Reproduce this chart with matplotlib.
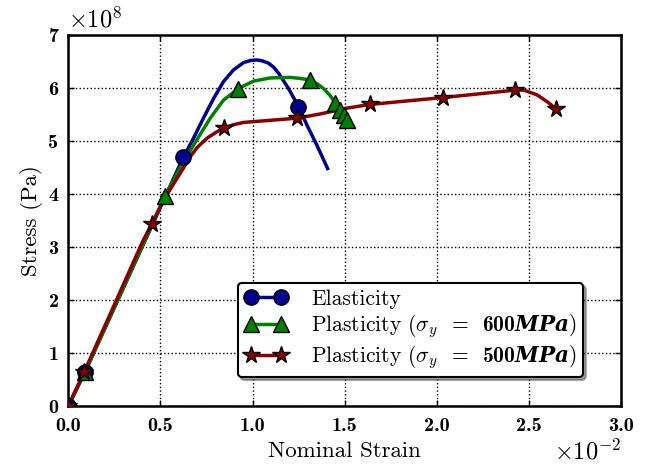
import numpy as np
import matplotlib
matplotlib.use('Agg')
import matplotlib.pyplot as plt
from matplotlib.lines import Line2D

plt.rcParams['font.family'] = 'serif'
plt.rcParams['font.serif'] = ['cmr10']
plt.rcParams['mathtext.fontset'] = 'custom'
plt.rcParams['mathtext.rm'] = 'cmr10'
plt.rcParams['mathtext.it'] = 'cmmi10'
plt.rcParams['mathtext.bf'] = 'cmb10'
plt.rcParams['mathtext.bfit'] = 'DejaVu Serif:italic:bold'
plt.rcParams['mathtext.fallback'] = 'cm'
plt.rcParams['axes.formatter.use_mathtext'] = True

# strain in units of 1e-2, stress in units of 1e8 Pa
el_x = [0.0, 0.09, 0.625, 0.679, 0.733, 0.788, 0.842, 0.896, 0.951, 0.99, 1.023, 1.055,
        1.086, 1.115, 1.141, 1.195, 1.249, 1.295, 1.349, 1.407]
el_y = [0.0, 0.64, 4.70, 5.05, 5.43, 5.80, 6.12, 6.34, 6.48, 6.52, 6.53, 6.51,
        6.47, 6.39, 6.28, 5.99, 5.65, 5.30, 4.92, 4.48]
el_mk = [0, 1, 2, 16]

p6_x = [0.0, 0.09, 0.526, 0.625, 0.697, 0.770, 0.842, 0.923, 1.005, 1.096, 1.204,
        1.26, 1.313, 1.35, 1.385, 1.42, 1.449, 1.475, 1.495, 1.515]
p6_y = [0.0, 0.63, 3.97, 4.61, 5.02, 5.43, 5.77, 5.99, 6.13, 6.19, 6.20,
        6.18, 6.15, 6.08, 5.99, 5.86, 5.72, 5.59, 5.49, 5.40]
p6_mk = [0, 1, 2, 7, 12, 16, 17, 18, 19]

p5_x = [0.0, 0.085, 0.407, 0.453, 0.516, 0.589, 0.625, 0.661, 0.70, 0.752, 0.80, 0.846,
        0.90, 0.951, 1.096, 1.241, 1.367, 1.512, 1.639, 2.034, 2.426, 2.472, 2.544,
        2.599, 2.649]
p5_y = [0.0, 0.63, 3.13, 3.43, 3.88, 4.29, 4.49, 4.70, 4.88, 5.05, 5.16, 5.25,
        5.31, 5.35, 5.39, 5.43, 5.51, 5.62, 5.69, 5.82, 5.96, 5.96, 5.87,
        5.74, 5.60]
p5_mk = [0, 1, 3, 11, 15, 18, 19, 20, 24]

xticks = [0.0, 0.5, 1.0, 1.5, 2.0, 2.5, 3.0]
yticks = [0, 1, 2, 3, 4, 5, 6, 7]

fig, ax = plt.subplots(figsize=(6.47, 4.67), dpi=100)
plt.subplots_adjust(left=0.1056, right=0.960, top=0.925, bottom=0.131)

lab6 = r'Plasticity ($\sigma_y\;\;\mathbf{=}\;\;\mathbf{600}\mathbfit{MPa}$)'
lab5 = r'Plasticity ($\sigma_y\;\;\mathbf{=}\;\;\mathbf{500}\mathbfit{MPa}$)'
series = [
    (el_x, el_y, el_mk, '#00008C', 'o', 11, 'Elasticity'),
    (p6_x, p6_y, p6_mk, '#008000', '^', 12, lab6),
    (p5_x, p5_y, p5_mk, '#8B0000', '*', 13, lab5),
]

handles = []
for x, y, mk, c, m, ms, lab in series:
    ax.plot(x, y, '-', color=c, lw=2.5, zorder=3)
    ax.plot(np.array(x)[mk], np.array(y)[mk], ls='', marker=m, ms=ms,
            mfc=c, mec='k', mew=1, zorder=4)
    handles.append(Line2D([], [], color=c, lw=2.5, marker=m, ms=ms,
                          mfc=c, mec='k', mew=1, label=lab))

ax.set_xlim(0, 3.0)
ax.set_ylim(0, 7)
ax.set_xticks(xticks)
ax.set_yticks(yticks)
ax.set_xticklabels(['%.1f' % v for v in xticks], fontsize=14.5, fontfamily='cmb10')
ax.set_yticklabels(['%d' % v for v in yticks], fontsize=14.5, fontfamily='cmb10')
ax.tick_params(direction='in', top=True, right=True, length=4, width=1)
ax.tick_params(axis='x', pad=8)
ax.tick_params(axis='y', pad=7)
ax.grid(True, ls=':', color='k', lw=1)
for s in ax.spines.values():
    s.set_linewidth(1.8)

ax.set_xlabel('Nominal Strain', fontsize=16.5, labelpad=5)
ax.set_ylabel('Stress (Pa)', fontsize=16.5)
ax.text(0.0, 1.008, r'$\times 10^{8}$', transform=ax.transAxes, fontsize=17.5, va='bottom', ha='left')
ax.text(1.0, -0.09, r'$\times 10^{-2}$', transform=ax.transAxes, fontsize=17.5, va='top', ha='right')

lg = ax.legend(handles=handles, loc='lower right', bbox_to_anchor=(0.931, 0.077),
               numpoints=2, fontsize=15.5, fancybox=True, shadow=True,
               framealpha=1, handlelength=2.0, handletextpad=1.1, borderpad=0.3,
               labelspacing=0.15, borderaxespad=0)
lg.get_frame().set_edgecolor('k')
lg.get_frame().set_linewidth(1.5)

plt.savefig('out.png', dpi=100)
